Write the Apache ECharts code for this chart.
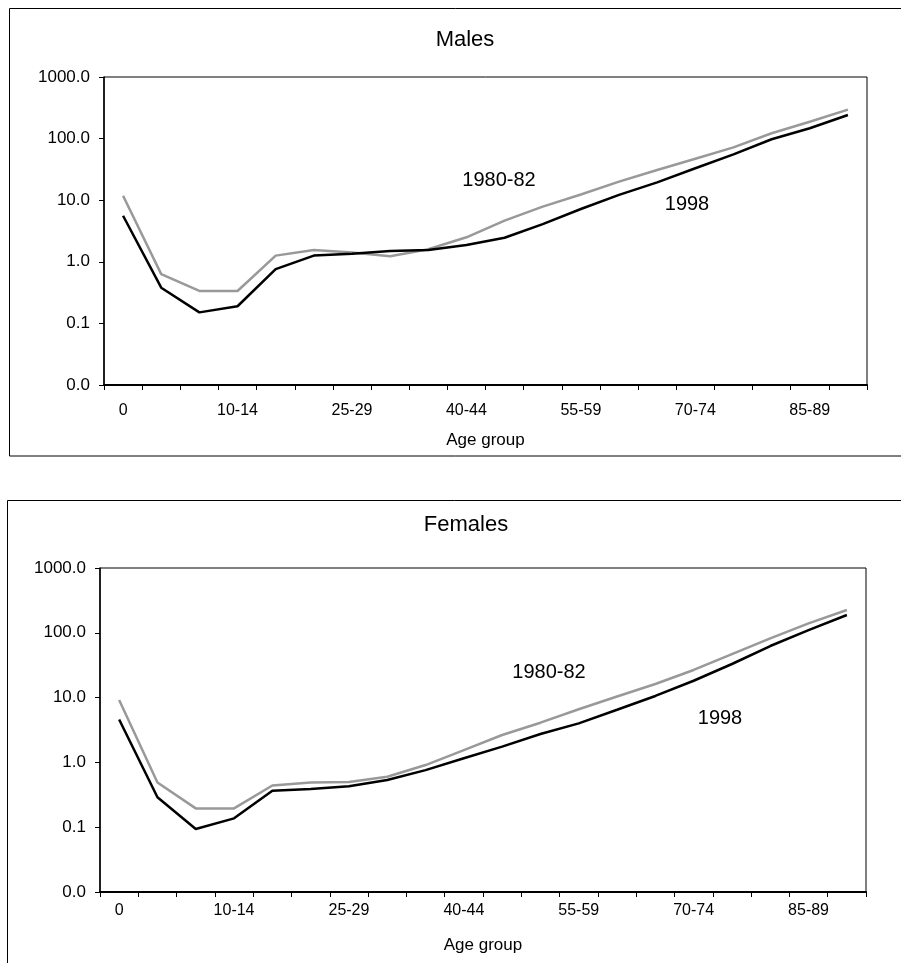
<!DOCTYPE html>
<html><head><meta charset="utf-8">
<script src="https://cdn.jsdelivr.net/npm/echarts@6/dist/echarts.min.js"></script>
<style>html,body{margin:0;padding:0;background:#fff}#c{width:901px;height:963px}</style>
</head><body><div id="c"></div>
<script>
const ageGroups = ['0','1-4','5-9','10-14','15-19','20-24','25-29','30-34','35-39','40-44','45-49','50-54','55-59','60-64','65-69','70-74','75-79','80-84','85-89','90+'];
const males1980 = [11.8, 0.63, 0.336, 0.336, 1.26, 1.55, 1.41, 1.23, 1.6, 2.5, 4.65, 7.85, 12.4, 20, 31, 47, 72, 122, 188, 295];
const males1998 = [5.6, 0.38, 0.151, 0.19, 0.76, 1.26, 1.35, 1.5, 1.55, 1.87, 2.46, 4.1, 7.2, 12.2, 19.5, 33, 55.6, 97.5, 147, 242];
const females1980 = [9.2, 0.49, 0.195, 0.195, 0.44, 0.49, 0.50, 0.60, 0.91, 1.55, 2.65, 4.1, 6.6, 10.4, 16.2, 26.7, 47, 82, 140, 225];
const females1998 = [4.6, 0.29, 0.094, 0.137, 0.366, 0.39, 0.43, 0.535, 0.76, 1.16, 1.75, 2.74, 4.0, 6.5, 10.6, 18.2, 33, 62.5, 110, 188];
const panelTitles = ['Males', 'Females'];
const seriesNames = ['1980-82', '1998'];
const xAxisName = 'Age group';

const FONT = '"Liberation Sans", Arial, sans-serif';
const chart = echarts.init(document.getElementById('c'), null, {renderer: 'canvas'});

function xAxis(gridIndex, margin, nameGap) {
  return {
    type: 'category', gridIndex, data: ageGroups, boundaryGap: true,
    name: xAxisName, nameLocation: 'middle', nameGap,
    nameTextStyle: {fontFamily: FONT, fontSize: 17, color: '#000'},
    axisLine: {show: true, onZero: false, lineStyle: {color: '#000', width: 2}},
    axisTick: {show: true, interval: 0, length: 5, inside: false, alignWithLabel: false, lineStyle: {color: '#000', width: 1}},
    axisLabel: {interval: 2, margin, fontFamily: FONT, fontSize: 16, color: '#000'},
    splitLine: {show: false}
  };
}
function yAxis(gridIndex) {
  return {
    type: 'log', gridIndex, logBase: 10, min: 0.01, max: 1000, splitNumber: 5,
    axisLine: {show: true, lineStyle: {color: '#000', width: 1.5}},
    axisTick: {show: true, length: 5, inside: false, lineStyle: {color: '#000', width: 1}},
    axisLabel: {margin: 14, fontFamily: FONT, fontSize: 17, color: '#000',
      formatter: v => Number(v).toFixed(1)},
    splitLine: {show: false}, minorTick: {show: false}
  };
}
function line(name, data, idx, color) {
  return {
    type: 'line', name, data, xAxisIndex: idx, yAxisIndex: idx,
    symbol: 'none', smooth: false, silent: true, animation: false,
    lineStyle: {color, width: 2.5}, z: color === '#000' ? 3 : 2
  };
}

chart.setOption({
  backgroundColor: '#fff',
  animation: false,
  title: [
    {text: panelTitles[0], left: 460, top: 24, textAlign: 'center',
     textStyle: {fontFamily: FONT, fontSize: 22, fontWeight: 'normal', color: '#000'}},
    {text: panelTitles[1], left: 461, top: 509, textAlign: 'center',
     textStyle: {fontFamily: FONT, fontSize: 22, fontWeight: 'normal', color: '#000'}}
  ],
  grid: [
    {left: 104, right: 34, top: 77, height: 308, show: true, borderColor: '#000', borderWidth: 1, containLabel: false},
    {left: 100, right: 35, top: 568, height: 324, show: true, borderColor: '#000', borderWidth: 1, containLabel: false}
  ],
  xAxis: [xAxis(0, 18, 47), xAxis(1, 11, 45)],
  yAxis: [yAxis(0), yAxis(1)],
  series: [
    line(seriesNames[0], males1980, 0, '#999999'),
    line(seriesNames[1], males1998, 0, '#000'),
    line(seriesNames[0], females1980, 1, '#999999'),
    line(seriesNames[1], females1998, 1, '#000')
  ],
  graphic: [
    {type: 'rect', shape: {x: 9.5, y: 8.5, width: 920, height: 447.5}, style: {fill: 'none', stroke: '#000', lineWidth: 1}, silent: true},
    {type: 'rect', shape: {x: 7.5, y: 500.5, width: 920, height: 500}, style: {fill: 'none', stroke: '#000', lineWidth: 1}, silent: true},
    {type: 'text', x: 499, y: 180, style: {text: seriesNames[0], fontFamily: FONT, fontSize: 20, fill: '#000', align: 'center', verticalAlign: 'middle'}},
    {type: 'text', x: 687, y: 204, style: {text: seriesNames[1], fontFamily: FONT, fontSize: 20, fill: '#000', align: 'center', verticalAlign: 'middle'}},
    {type: 'text', x: 549, y: 672, style: {text: seriesNames[0], fontFamily: FONT, fontSize: 20, fill: '#000', align: 'center', verticalAlign: 'middle'}},
    {type: 'text', x: 720, y: 718, style: {text: seriesNames[1], fontFamily: FONT, fontSize: 20, fill: '#000', align: 'center', verticalAlign: 'middle'}}
  ]
});
</script></body></html>
